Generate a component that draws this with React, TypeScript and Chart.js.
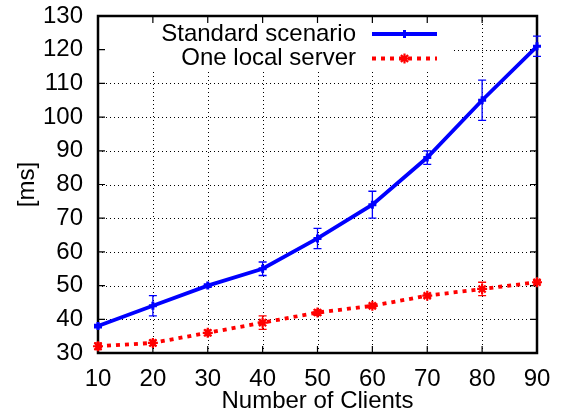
import React, { useEffect, useRef } from "react";
import { Chart, registerables } from "chart.js";
import { drawPoint } from "chart.js/helpers";

Chart.register(...registerables);

const clients = [10, 20, 30, 40, 50, 60, 70, 80, 90];
const standardMs = [38, 44, 50, 55, 64, 74, 88, 105, 121];
const standardErr = [0.5, 3, 0.5, 2, 3, 4, 2, 6, 3];
const localMs = [32, 33, 36, 39, 42, 44, 47, 49, 51];
const localErr = [1, 0.8, 0.8, 2, 0.8, 0.5, 0.5, 2, 0.5];
const seriesNames = ["Standard scenario", "One local server"];
const xTitle = "Number of Clients";
const yTitle = "[ms]";
const xRange = [10, 90];
const yRange = [30, 130];
const tickStep = 10;

const FONT = '"Liberation Sans", Arial, Helvetica, sans-serif';
const BLUE = "#0000ff";
const RED = "#ff0000";
const errorSets = [standardErr, localErr];

const gnuplotFrame = {
  id: "gnuplotFrame",
  beforeDatasetsDraw(chart: any) {
    const { ctx, chartArea: a, scales } = chart;
    const xs = scales.x;
    const ys = scales.y;
    const key = { l: a.left, t: a.top, r: a.right - 85, b: a.top + 53 };
    // grid (hidden behind key)
    ctx.save();
    ctx.beginPath();
    ctx.rect(a.left, a.top, a.right - a.left, a.bottom - a.top);
    ctx.rect(key.l, key.t, key.r - key.l, key.b - key.t);
    ctx.clip("evenodd");
    ctx.strokeStyle = "#000";
    ctx.lineWidth = 1;
    ctx.setLineDash([1, 3]);
    xs.ticks.forEach((t: any) => {
      if (t.value <= xRange[0] || t.value >= xRange[1]) return;
      const px = Math.round(xs.getPixelForValue(t.value)) + 0.5;
      ctx.beginPath();
      ctx.moveTo(px, a.bottom);
      ctx.lineTo(px, a.top);
      ctx.stroke();
    });
    ys.ticks.forEach((t: any) => {
      if (t.value <= yRange[0] || t.value >= yRange[1]) return;
      const py = Math.round(ys.getPixelForValue(t.value)) + 0.5;
      ctx.beginPath();
      ctx.moveTo(a.left, py);
      ctx.lineTo(a.right, py);
      ctx.stroke();
    });
    ctx.restore();

    // tick marks (inward, mirrored)
    ctx.save();
    ctx.strokeStyle = "#000";
    ctx.lineWidth = 1.2;
    const L = 7;
    xs.ticks.forEach((t: any) => {
      const px = xs.getPixelForValue(t.value);
      ctx.beginPath();
      ctx.moveTo(px, a.bottom);
      ctx.lineTo(px, a.bottom - L);
      ctx.moveTo(px, a.top);
      ctx.lineTo(px, a.top + L);
      ctx.stroke();
    });
    ys.ticks.forEach((t: any) => {
      const py = ys.getPixelForValue(t.value);
      ctx.beginPath();
      ctx.moveTo(a.left, py);
      ctx.lineTo(a.left + L, py);
      ctx.moveTo(a.right, py);
      ctx.lineTo(a.right - L, py);
      ctx.stroke();
    });
    // border
    ctx.lineWidth = 2.5;
    ctx.strokeRect(a.left, a.top, a.right - a.left, a.bottom - a.top);

    // error bars
    chart.data.datasets.forEach((ds: any, i: number) => {
      const errs = errorSets[i];
      ctx.strokeStyle = ds.borderColor;
      ctx.lineWidth = 1.3;
      ds.data.forEach((p: any, j: number) => {
        const e = errs[j];
        const px = xs.getPixelForValue(p.x);
        const y1 = ys.getPixelForValue(p.y - e);
        const y2 = ys.getPixelForValue(p.y + e);
        ctx.beginPath();
        ctx.moveTo(px, y1);
        ctx.lineTo(px, y2);
        ctx.moveTo(px - 4, y1);
        ctx.lineTo(px + 4, y1);
        ctx.moveTo(px - 4, y2);
        ctx.lineTo(px + 4, y2);
        ctx.stroke();
      });
    });
    ctx.restore();
  },
  afterDatasetsDraw(chart: any) {
    const { ctx, chartArea: a } = chart;
    const rows = [a.top + 18, a.top + 42.5];
    const textRight = a.right - 181;
    const x0 = a.right - 165;
    const x1 = a.right - 100;
    const xm = (x0 + x1) / 2;
    ctx.save();
    chart.data.datasets.forEach((ds: any, i: number) => {
      const y = rows[i];
      ctx.fillStyle = "#000";
      ctx.font = `24px ${FONT}`;
      ctx.textAlign = "right";
      ctx.textBaseline = "middle";
      ctx.fillText(ds.label, textRight, y);
      ctx.strokeStyle = ds.borderColor;
      ctx.lineWidth = ds.borderWidth;
      ctx.lineCap = "butt";
      ctx.setLineDash(ds.borderDash || []);
      ctx.beginPath();
      ctx.moveTo(x0, y);
      ctx.lineTo(x1, y);
      ctx.stroke();
      ctx.setLineDash([]);
      ctx.fillStyle = ds.borderColor;
      ctx.lineWidth = ds.pointBorderWidth;
      drawPoint(
        ctx,
        {
          pointStyle: ds.pointStyle,
          radius: ds.pointRadius,
          borderWidth: ds.pointBorderWidth,
          rotation: 0,
        } as any,
        xm,
        y
      );
    });
    ctx.restore();
  },
};

export default function App() {
  const ref = useRef<HTMLCanvasElement | null>(null);
  useEffect(() => {
    if (!ref.current) return;
    const chart = new Chart(ref.current, {
      type: "line",
      data: {
        datasets: [
          {
            label: seriesNames[0],
            data: clients.map((c, i) => ({ x: c, y: standardMs[i] })),
            borderColor: BLUE,
            backgroundColor: BLUE,
            borderWidth: 3.8,
            pointStyle: "cross",
            pointRadius: 4,
            pointBorderWidth: 3,
            pointBackgroundColor: BLUE,
            pointBorderColor: BLUE,
            tension: 0,
            clip: false,
          } as any,
          {
            label: seriesNames[1],
            data: clients.map((c, i) => ({ x: c, y: localMs[i] })),
            borderColor: RED,
            backgroundColor: RED,
            borderWidth: 3.8,
            borderDash: [4, 5],
            pointStyle: "star",
            pointRadius: 5,
            pointBorderWidth: 2.2,
            pointBackgroundColor: RED,
            pointBorderColor: RED,
            tension: 0,
            clip: false,
          } as any,
        ],
      },
      options: {
        animation: false,
        responsive: false,
        devicePixelRatio: 1,
        events: [],
        layout: { padding: { top: 16, right: 26, left: 0, bottom: 0 } },
        plugins: {
          legend: { display: false },
          title: { display: false },
          tooltip: { enabled: false },
        },
        scales: {
          x: {
            type: "linear",
            min: xRange[0],
            max: xRange[1],
            grid: { display: false, drawTicks: false },
            border: { display: false },
            ticks: {
              stepSize: tickStep,
              color: "#000",
              padding: 12,
              font: { family: FONT, size: 24 },
              maxRotation: 0,
            },
            title: {
              display: true,
              text: xTitle,
              color: "#000",
              font: { family: FONT, size: 24, lineHeight: 0.9 },
              padding: { top: 0, bottom: 0 },
            },
            afterFit: (s: any) => {
              s.height = 59;
              s.paddingLeft = 0;
              s.paddingRight = 0;
            },
          },
          y: {
            type: "linear",
            min: yRange[0],
            max: yRange[1],
            grid: { display: false, drawTicks: false },
            border: { display: false },
            ticks: {
              stepSize: tickStep,
              color: "#000",
              padding: 15,
              font: { family: FONT, size: 24 },
            },
            title: {
              display: true,
              text: yTitle,
              color: "#000",
              font: { family: FONT, size: 24, lineHeight: 0.9 },
              padding: { top: 17, bottom: 0 },
            },
            afterFit: (s: any) => {
              s.width = 98;
              s.paddingTop = 0;
              s.paddingBottom = 0;
            },
          },
        },
      } as any,
      plugins: [gnuplotFrame as any],
    });
    return () => chart.destroy();
  }, []);
  return (
    <div style={{ position: "fixed", left: 0, top: 0, width: 563, height: 412, background: "#fff" }}>
      <canvas ref={ref} width={563} height={412} style={{ display: "block" }} />
    </div>
  );
}
